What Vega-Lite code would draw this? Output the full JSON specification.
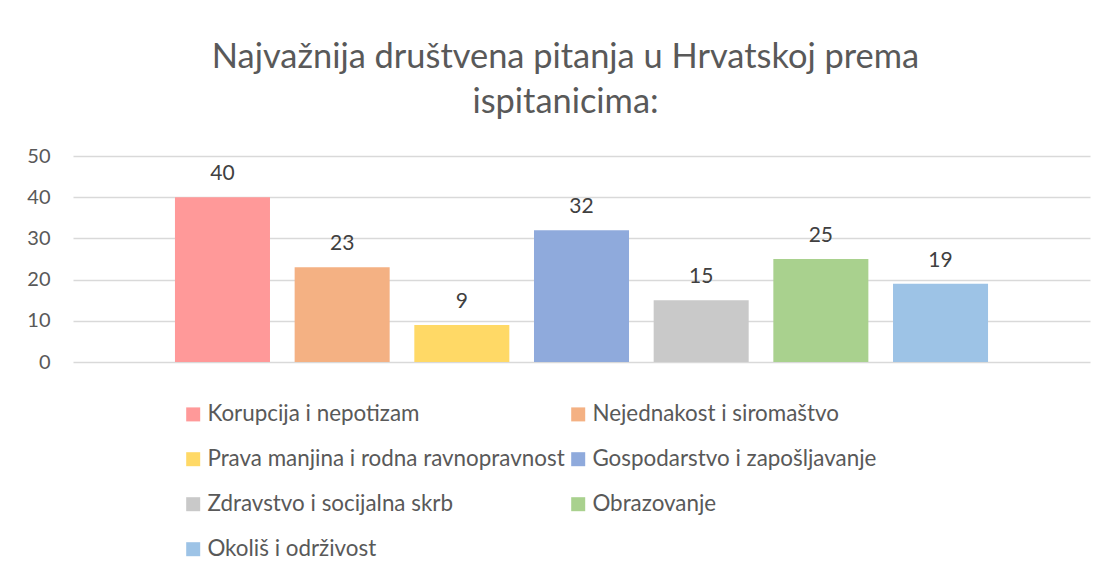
{
  "$schema": "https://vega.github.io/schema/vega-lite/v6.json",
  "autosize": "none",
  "width": 1017,
  "height": 206,
  "padding": {"left": 73, "top": 156, "right": 18, "bottom": 213},
  "background": "white",
  "config": {
    "font": "Lato",
    "view": {"stroke": null},
    "axis": {"labelColor": "#595959", "labelFont": "Lato"},
    "legend": {"labelColor": "#595959", "labelFont": "Lato"}
  },
  "title": {
    "text": ["Najvažnija društvena pitanja u Hrvatskoj prema", "ispitanicima:"],
    "font": "Lato",
    "fontSize": 34.4,
    "fontWeight": "normal",
    "color": "#595959",
    "lineHeight": 45,
    "anchor": "middle",
    "dx": -16,
    "offset": 26
  },
  "data": {
    "values": [
      {"kategorija": "Korupcija i nepotizam", "broj": 40},
      {"kategorija": "Nejednakost i siromaštvo", "broj": 23},
      {"kategorija": "Prava manjina i rodna ravnopravnost", "broj": 9},
      {"kategorija": "Gospodarstvo i zapošljavanje", "broj": 32},
      {"kategorija": "Zdravstvo i socijalna skrb", "broj": 15},
      {"kategorija": "Obrazovanje", "broj": 25},
      {"kategorija": "Okoliš i održivost", "broj": 19}
    ]
  },
  "encoding": {
    "x": {
      "field": "kategorija",
      "type": "nominal",
      "sort": null,
      "axis": null,
      "scale": {"paddingInner": 0.206, "paddingOuter": 0.852}
    },
    "y": {
      "field": "broj",
      "type": "quantitative",
      "scale": {"domain": [0, 50]},
      "axis": {
        "title": null,
        "values": [0, 10, 20, 30, 40, 50],
        "domain": false,
        "ticks": false,
        "labelPadding": 23,
        "labelFontSize": 20,
        "gridColor": "#D9D9D9",
        "gridWidth": 1.3
      }
    }
  },
  "layer": [
    {
      "mark": {"type": "bar"},
      "encoding": {
        "color": {
          "field": "kategorija",
          "type": "nominal",
          "scale": {
            "domain": [
              "Korupcija i nepotizam",
              "Nejednakost i siromaštvo",
              "Prava manjina i rodna ravnopravnost",
              "Gospodarstvo i zapošljavanje",
              "Zdravstvo i socijalna skrb",
              "Obrazovanje",
              "Okoliš i održivost"
            ],
            "range": ["#FF9999", "#F4B183", "#FFD966", "#8FAADC", "#C9C9C9", "#A9D18E", "#9DC3E6"]
          },
          "legend": {
            "title": null,
            "orient": "none",
            "direction": "horizontal",
            "legendX": 109,
            "legendY": 247,
            "columns": 2,
            "columnPadding": 2,
            "rowPadding": 22,
            "symbolType": "square",
            "symbolSize": 196,
            "symbolStrokeWidth": 0,
            "labelFontSize": 22.4,
            "labelOffset": 3,
            "labelLimit": 600
          }
        }
      }
    },
    {
      "mark": {"type": "text", "baseline": "alphabetic", "dy": -17, "fontSize": 21, "color": "#404040"},
      "encoding": {
        "text": {"field": "broj", "type": "quantitative"}
      }
    }
  ]
}
